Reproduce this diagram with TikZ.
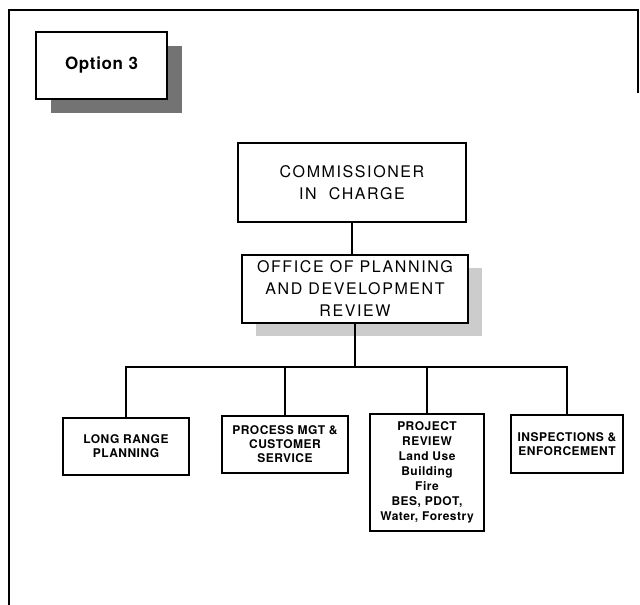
\documentclass[tikz,border=0pt]{standalone}
\usepackage{fontspec}
\setmainfont{TeX Gyre Heros}
\begin{document}
\begin{tikzpicture}[x=1pt,y=-1pt,
  box/.style={draw=black, line width=1.8pt, fill=white, inner sep=2pt, align=center},
  link/.style={draw=black, line width=1.8pt},
  headtext/.style={font=\fontsize{16}{22}\selectfont\addfontfeature{LetterSpace=10}},
  unittext/.style={font=\fontsize{12}{14}\selectfont\bfseries\addfontfeature{LetterSpace=4}},
  shadowdark/.style={fill=black!55, draw=none},
  shadowlight/.style={fill=black!20, draw=none}]
\useasboundingbox (0,0) rectangle (640,605);

% outer frame (open at the lower right)
\draw[line width=2.2pt] (9,605) -- (9,10) -- (638,10) -- (638,93);

% title box with its drop shadow
\fill[shadowdark] (51,46) rectangle (182,113);
\node[box, minimum width=131pt, minimum height=67pt,
      font=\fontsize{17}{20}\selectfont\bfseries\addfontfeature{LetterSpace=4}]
  (opt) at (101.5,65.5) {Option 3};

% top of the hierarchy
\node[box, headtext, minimum width=228pt, minimum height=79pt] (comm) at (352,182.5)
  {COMMISSIONER\\IN\ \ CHARGE};

\fill[shadowlight] (256,268) rectangle (482,336);
\node[box, headtext, minimum width=226pt, minimum height=68pt, inner sep=1pt] (office) at (355,289)
  {OFFICE OF PLANNING\\AND DEVELOPMENT\\REVIEW};

% units
\node[box, unittext, minimum width=126pt, minimum height=57pt] (lrp) at (126,446.5)
  {LONG RANGE\\PLANNING};
\node[box, unittext, minimum width=126pt, minimum height=57pt] (pmc) at (285,444.5)
  {PROCESS MGT \&\\CUSTOMER\\SERVICE};
\node[box, unittext, minimum width=114pt, minimum height=117pt,
      font=\fontsize{12}{15}\selectfont\bfseries\addfontfeature{LetterSpace=4}] (prj) at (427,472.5)
  {PROJECT\\REVIEW\\Land Use\\Building\\Fire\\BES, PDOT,\\Water, Forestry};
\node[box, unittext, minimum width=112pt, minimum height=58pt] (ins) at (567,444)
  {INSPECTIONS \&\\ENFORCEMENT};

% connectors
\coordinate (bus) at (355,367);
\draw[link] (comm.south) -- (comm.south |- office.north);
\draw[link] (office.south) -- (bus);
\draw[link] (lrp.north) |- (bus) -| (ins.north);
\draw[link] (pmc.north) -- (pmc.north |- bus);
\draw[link] (prj.north) -- (prj.north |- bus);
\end{tikzpicture}
\end{document}
